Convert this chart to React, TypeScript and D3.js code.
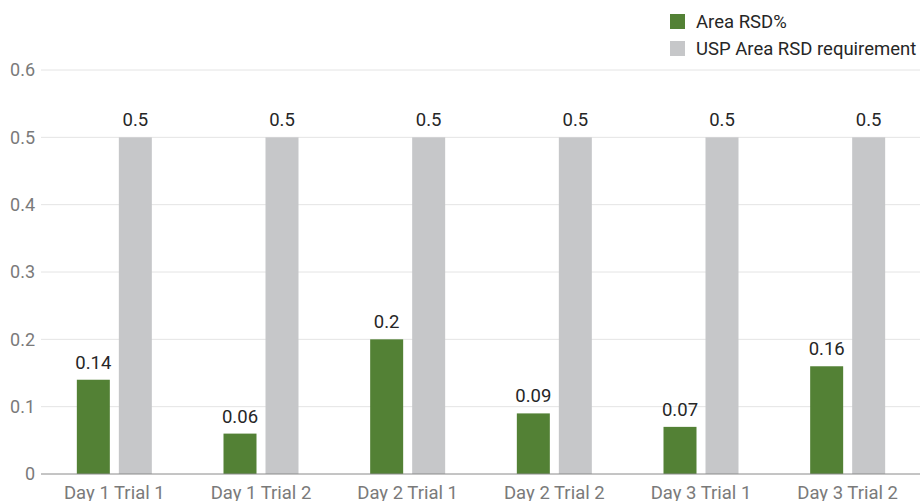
import React from "react";
import * as d3 from "d3";

const categories = [
  "Day 1 Trial 1",
  "Day 1 Trial 2",
  "Day 2 Trial 1",
  "Day 2 Trial 2",
  "Day 3 Trial 1",
  "Day 3 Trial 2",
];
const seriesNames = ["Area RSD%", "USP Area RSD requirement"];
const areaRsd = [0.14, 0.06, 0.2, 0.09, 0.07, 0.16];
const uspRequirement = [0.5, 0.5, 0.5, 0.5, 0.5, 0.5];
const yTicks = [0, 0.1, 0.2, 0.3, 0.4, 0.5, 0.6];
const colors = ["#538135", "#c6c7c9"];

const W = 920;
const H = 501;
const FONT = "Roboto, 'Noto Sans', sans-serif";

export default function App() {
  const y = d3.scaleLinear().domain([0, 0.6]).range([474, 70]);
  const x0 = d3.scaleBand<string>().domain(categories).range([41, 921]).padding(0);
  const groupW = 75;
  const x1 = d3
    .scaleBand<string>()
    .domain(seriesNames)
    .range([0, groupW])
    .paddingInner(9 / 42)
    .paddingOuter(0);
  const values = [areaRsd, uspRequirement];

  return (
    <svg
      width={W}
      height={H}
      style={{ position: "absolute", left: 0, top: 0, display: "block", background: "#fff" }}
      fontFamily={FONT}
    >
      {/* gridlines and y tick labels */}
      {yTicks.map((t) => (
        <g key={t}>
          {t !== 0 && (
            <line x1={41} x2={920} y1={y(t)} y2={y(t)} stroke="#e4e4e4" strokeWidth={1} />
          )}
          <text
            x={35}
            y={y(t)}
            dy="0.35em"
            textAnchor="end"
            fontSize={18}
            fill="#7a7a7a"
          >
            {d3.format("")(t)}
          </text>
        </g>
      ))}

      {/* bars and value labels */}
      {categories.map((c, i) => {
        const gx = (x0(c) ?? 0) + x0.bandwidth() / 2 - groupW / 2;
        return (
          <g key={c}>
            {seriesNames.map((s, k) => {
              const v = values[k][i];
              const bx = gx + (x1(s) ?? 0);
              return (
                <g key={s}>
                  <rect
                    x={bx}
                    y={y(v)}
                    width={x1.bandwidth()}
                    height={y(0) - y(v)}
                    fill={colors[k]}
                  />
                  <text
                    x={bx + x1.bandwidth() / 2}
                    y={y(v) - 11}
                    textAnchor="middle"
                    fontSize={18.5}
                    fill="#262626"
                  >
                    {String(v)}
                  </text>
                </g>
              );
            })}
            <text
              x={(x0(c) ?? 0) + x0.bandwidth() / 2}
              y={498.5}
              textAnchor="middle"
              fontSize={18.5}
              fill="#7a7a7a"
            >
              {c}
            </text>
          </g>
        );
      })}

      {/* baseline */}
      <line x1={41} x2={920} y1={y(0)} y2={y(0)} stroke="#8a8a8a" strokeWidth={1} />

      {/* legend */}
      {seriesNames.map((s, k) => (
        <g key={s} transform={`translate(670, ${14 + k * 27})`}>
          <rect width={15} height={15} fill={colors[k]} />
          <text x={26} y={7.5} dy="0.35em" fontSize={18.5} fill="#262626">
            {s}
          </text>
        </g>
      ))}
    </svg>
  );
}
